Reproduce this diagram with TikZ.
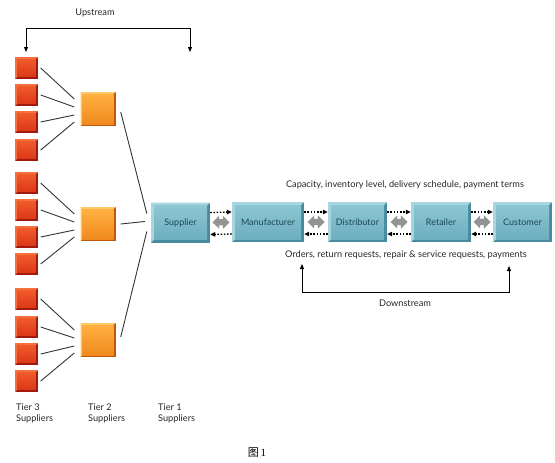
\documentclass[tikz,border=0pt]{standalone}
\usepackage{fontspec}
\setmainfont{Lato}
\newfontfamily\cjk{Noto Sans CJK SC}
\newfontfamily\serifone{Liberation Serif}
\usetikzlibrary{calc,shapes.arrows,arrows.meta}
\definecolor{redL}{HTML}{F4703E}
\definecolor{redD}{HTML}{A01A10}
\definecolor{redT}{HTML}{F05A2A}
\definecolor{redB}{HTML}{DC381A}
\definecolor{orL}{HTML}{FFC868}
\definecolor{orD}{HTML}{C0580C}
\definecolor{orT}{HTML}{FFB040}
\definecolor{orB}{HTML}{F08A1E}
\definecolor{tlL}{HTML}{A8D6E0}
\definecolor{tlD}{HTML}{468C9E}
\definecolor{tlT}{HTML}{8CC6D3}
\definecolor{tlB}{HTML}{6EAEBF}
\definecolor{tlTxt}{HTML}{1C4654}
\definecolor{lineC}{HTML}{333333}
\tikzset{
  x=1pt, y=-1pt,
  bevel/.style n args={5}{path picture={
    \coordinate (ppsw) at (path picture bounding box.south west);
    \coordinate (ppnw) at (path picture bounding box.north west);
    \coordinate (ppne) at (path picture bounding box.north east);
    \fill[#2] (ppsw) rectangle (ppne);
    \fill[#1] (ppsw) -- (ppnw) -- (ppne) -- ($(ppne)+(-#5,-#5)$) -- ($(ppnw)+(#5,-#5)$) -- ($(ppsw)+(#5,#5)$) -- cycle;
    \shade[top color=#3,bottom color=#4] ($(ppsw)+(#5,#5)$) rectangle ($(ppne)+(-#5,-#5)$);
  }},
  redsq/.style={minimum width=23pt, minimum height=22pt, inner sep=0pt, fill=redD,
    bevel={redL}{redD}{redT}{redB}{2.5pt}},
  orsq/.style={minimum width=35pt, minimum height=34pt, inner sep=0pt, fill=orD,
    bevel={orL}{orD}{orT}{orB}{2pt}},
  tbox/.style={minimum height=40pt, inner sep=0pt, fill=tlD, text=tlTxt,
    font=\fontsize{9}{10}\selectfont,
    bevel={tlL}{tlD}{tlT}{tlB}{3pt}},
  conn/.style={draw=lineC, line width=0.9pt},
  dotarr/.style={draw=black, line width=1.3pt, dash pattern=on 1.6pt off 1.6pt,
    -{Triangle[length=5pt,width=4.5pt]}},
  dblarr/.style={double arrow, fill=gray!85, draw=none, minimum height=17pt,
    double arrow head extend=3.5pt, inner sep=3pt},
  brk/.style={draw=black, line width=0.8pt, {Triangle[length=5pt,width=4pt]}-{Triangle[length=5pt,width=4pt]}},
  lbl/.style={font=\fontsize{9.2}{10.5}\selectfont, text=black!85, inner sep=0pt},
}
\begin{document}
\begin{tikzpicture}
\useasboundingbox (0,0) rectangle (555,463);
% red squares
\foreach \n/\y in {1/68,2/95,3/122,4/150,5/183,6/210,7/237,8/264,9/299,10/327,11/354,12/381}{
  \node[redsq] (r\n) at (26.5,\y) {};
}
% orange squares
\node[orsq] (o1) at (98,109) {};
\node[orsq] (o2) at (98,224) {};
\node[orsq] (o3) at (98,340) {};
% teal boxes
\node[tbox, minimum width=59pt] (sup) at (180.5,222.5) {Supplier};
\node[tbox, minimum width=72pt] (man) at (268,222) {Manufacturer};
\node[tbox, minimum width=59pt] (dis) at (357.5,222) {Distributor};
\node[tbox, minimum width=60pt] (ret) at (441,222) {Retailer};
\node[tbox, minimum width=59pt] (cus) at (522.5,222) {Customer};
% tier 3 -> tier 2
\foreach \g/\a/\b/\c/\d in {o1/1/2/3/4, o2/5/6/7/8, o3/9/10/11/12}{
  \draw[conn] ([xshift=2.5pt]r\a.east) -- ([xshift=-6pt,yshift=10pt]\g.west);
  \draw[conn] ([xshift=2.5pt]r\b.east) -- ([xshift=-6pt,yshift=2pt]\g.west);
  \draw[conn] ([xshift=2.5pt]r\c.east) -- ([xshift=-6pt,yshift=-6pt]\g.west);
  \draw[conn] ([xshift=2.5pt]r\d.east) -- ([xshift=-6pt,yshift=-13pt]\g.west);
}
% tier 2 -> tier 1
\draw[conn] ([xshift=5pt,yshift=-3pt]o1.east) -- ([xshift=-4pt,yshift=9pt]sup.west);
\draw[conn] ([xshift=5pt]o2.east) -- ([xshift=-6pt,yshift=1pt]sup.west);
\draw[conn] ([xshift=5pt,yshift=3pt]o3.east) -- ([xshift=-4pt,yshift=-9pt]sup.west);
% arrows between boxes
\foreach \a/\b/\k in {sup/man/1, man/dis/2, dis/ret/3, ret/cus/4}{
  \draw[dotarr] ([yshift=10pt]\a.east) -- ([yshift=10pt]\b.west);
  \draw[dotarr] ([yshift=-12pt]\b.west) -- ([yshift=-12pt]\a.east);
  \node[dblarr] (g\k) at ($(\a.east)!0.5!(\b.west)$) {};
}
% upstream bracket
\coordinate (upA) at (26,52);
\coordinate (upL) at (26,28);
\coordinate (upR) at (190,28);
\coordinate (upB) at (190,52);
\draw[brk] (upA) -- (upL) -- (upR) -- (upB);
\node[lbl] (uplbl) at (95,13) {Upstream};
% downstream bracket
\coordinate (dnA) at (302,264);
\coordinate (dnL) at (302,292);
\coordinate (dnR) at (509,292);
\coordinate (dnB) at (509,266);
\draw[brk] (dnA) -- (dnL) -- (dnR) -- (dnB);
\node[lbl] (dnlbl) at (405,303) {Downstream};
% flow texts
\node[lbl] (toptxt) at (405,185) {Capacity, inventory level, delivery schedule, payment terms};
\node[lbl] (bottxt) at (406,255) {Orders, return requests, repair \& service requests, payments};
% tier labels
\node[lbl, anchor=north west, align=left] (t3) at (16,404) {Tier 3\\Suppliers};
\node[lbl, anchor=north west, align=left] (t2) at (88,404) {Tier 2\\Suppliers};
\node[lbl, anchor=north west, align=left] (t1) at (158,404) {Tier 1\\Suppliers};
% caption
\node[inner sep=0pt, font=\fontsize{11}{12}\selectfont] (cap) at (257,453) {{\cjk 图}\,{\serifone 1}};
\end{tikzpicture}
\end{document}
